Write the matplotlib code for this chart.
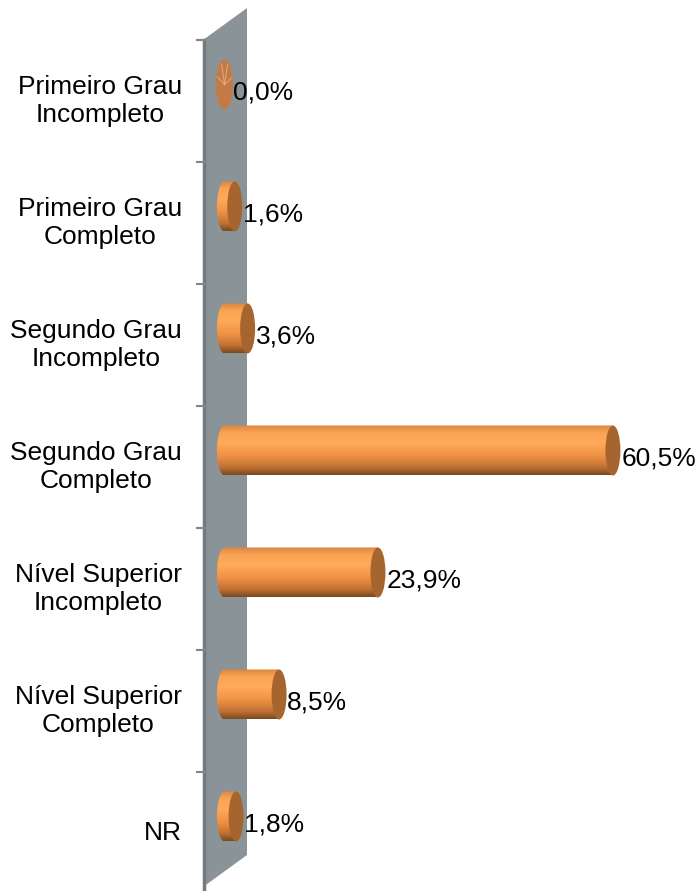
import numpy as np
import matplotlib
matplotlib.use("Agg")
import matplotlib.pyplot as plt
from matplotlib.patches import Polygon, Ellipse
from matplotlib.colors import LinearSegmentedColormap

# Data
categories = ["Primeiro Grau\nIncompleto", "Primeiro Grau\nCompleto",
              "Segundo Grau\nIncompleto", "Segundo Grau\nCompleto",
              "Nível Superior\nIncompleto", "Nível Superior\nCompleto", "NR"]
values = [0.0, 1.6, 3.6, 60.5, 23.9, 8.5, 1.8]

# Layout (pixels of the 696x891 picture)
W, H = 696, 891
PX_PCT = 6.42       # pixels per percent
X0 = 224.5          # pixel x of the zero
ROW = 122           # pixels per category
ROW0 = 101          # pixel y of first category centre


def px(xp, yp):
    """ pixel -> data coordinates """
    return (xp - X0) / PX_PCT, (yp - ROW0) / ROW


plt.rcParams['font.family'] = ['Liberation Sans', 'DejaVu Sans']

fig = plt.figure(figsize=(W / 100, H / 100), dpi=100)
ax = fig.add_axes([0, 0, 1, 1])
ax.set_axis_off()

# Back wall
wall = [px(203, 40), px(247, 8), px(247, 855), px(203, 887), px(203, 900)]
ax.add_patch(Polygon(wall, closed=True, facecolor="#8a9498", edgecolor="none", zorder=1))
ax.plot(*zip(px(204.5, 40), px(204.5, 900)), color="#737b7f", lw=2.5, zorder=2)

# Category ticks
for i in range(len(categories)):
    y = i - 0.5
    ax.plot([px(197, 0)[0], px(205, 0)[0]], [y, y], color="#868686", lw=1.5, zorder=2)

# Cylinder gradient (top -> bottom)
orange = LinearSegmentedColormap.from_list("cyl", [
    (0.0, (0.86, 0.52, 0.25)),
    (0.15, (0.98, 0.64, 0.33)),
    (0.35, (1.00, 0.67, 0.35)),
    (0.62, (0.94, 0.57, 0.27)),
    (0.85, (0.75, 0.44, 0.20)),
    (1.0, (0.47, 0.29, 0.13)),
])
grad = np.linspace(0, 1, 200).reshape(-1, 1)

capW = 15 / PX_PCT
barH = 50 / ROW
dy = -16.5 / ROW

for i, v in enumerate(values):
    c = i + dy
    top, bot = c - barH / 2, c + barH / 2
    if v > 0:
        t = np.linspace(0, np.pi, 40)
        pts = list(zip(-capW / 2 * np.sin(t), c - barH / 2 * np.cos(t)))
        pts += [(v, bot), (v, top)]
        clip = Polygon(pts, closed=True, transform=ax.transData)
        im = ax.imshow(grad, extent=(-capW / 2, v, bot, top), cmap=orange,
                       aspect="auto", origin="upper", zorder=3, interpolation="bilinear")
        im.set_clip_path(clip)
        ax.add_patch(Ellipse((v, c), capW, barH, facecolor="#a6652f",
                             edgecolor="none", zorder=4))
    else:
        ax.add_patch(Ellipse((v, c), capW * 1.15, barH, facecolor="#c47a45",
                             edgecolor="none", zorder=4))
        for a in np.linspace(0.3, 2.8, 4):
            ax.plot([v, v + np.cos(a) * capW * 0.5], [c, c - np.sin(a) * barH * 0.45],
                    color="#e8b690", lw=0.8, alpha=0.7, zorder=5)

    lab = f"{v:.1f}".replace(".", ",") + "%"
    ax.text(v + capW / 2 * 1.1, c + 8 / ROW, lab, ha="left", va="center",
            fontsize=19, color="black", zorder=6)

    ax.text(px(182, 0)[0], i, categories[i], ha="right", va="center",
            fontsize=19, linespacing=1.25, multialignment="center", color="black")

ax.set_xlim(-X0 / PX_PCT, (W - X0) / PX_PCT)
ax.set_ylim((H - ROW0) / ROW, -ROW0 / ROW)

fig.savefig("out.png", dpi=100)
